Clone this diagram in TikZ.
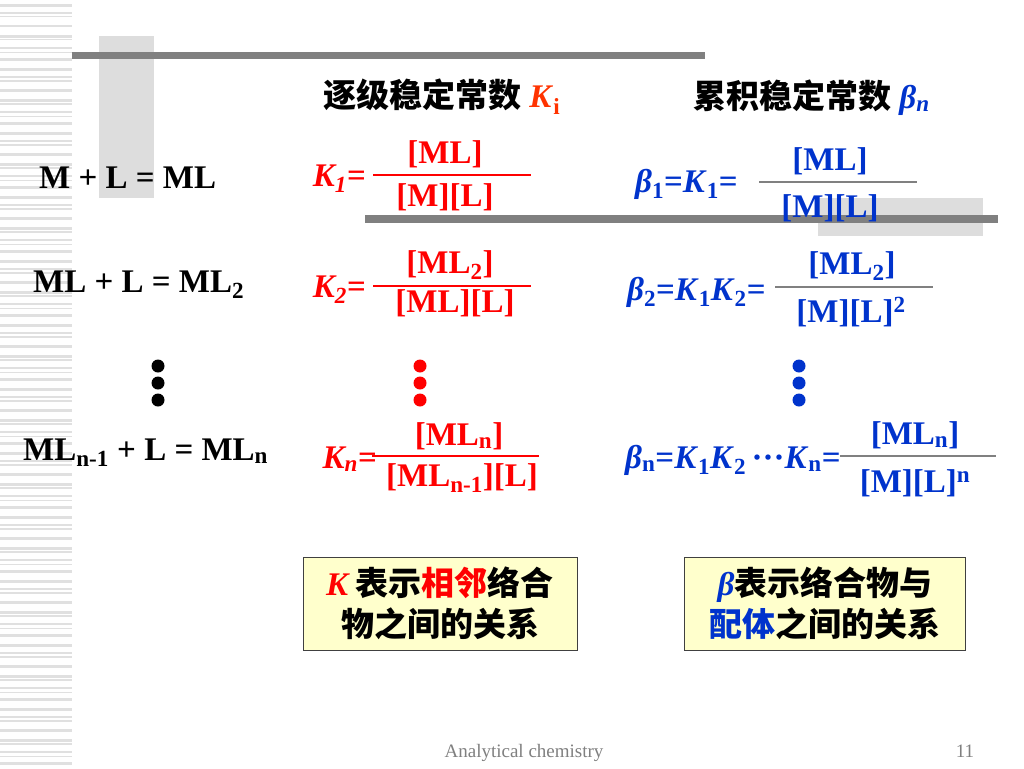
\documentclass[tikz,border=0pt]{standalone}
\usepackage{fontspec}
\setmainfont{Liberation Serif}
\newfontfamily\cjk{Noto Sans CJK SC}
\definecolor{rd}{HTML}{FF0000}
\definecolor{bl}{HTML}{0033CC}
\definecolor{ttl}{HTML}{FF3300}
\definecolor{barc}{HTML}{808080}
\definecolor{lgc}{HTML}{DDDDDD}
\definecolor{stripec}{HTML}{E0E0E0}
\definecolor{boxfill}{HTML}{FFFFCC}
\newcommand{\Kit}{\textit{K}}
\newcommand{\bet}{\textit{β}}
\begin{document}
\begin{tikzpicture}[x=1pt,y=-1pt,
  eqt/.style={font=\fontsize{33}{35}\selectfont\bfseries, inner sep=0pt},
  frt/.style={font=\fontsize{33}{35}\selectfont\bfseries, inner sep=0pt},
  ttlt/.style={font=\fontsize{33}{35}\selectfont\bfseries, inner sep=0pt},
  rline/.style={draw=rd, line width=2.5pt},
  gline/.style={draw=barc, line width=2.5pt},
  bar/.style={fill=barc},
  shade/.style={fill=lgc},
  notebox/.style={draw=black!75, line width=0.8pt, fill=boxfill, minimum width=274pt,
    minimum height=93pt, inner sep=0pt, align=center,
    font=\fontsize{33}{41}\selectfont\cjk\bfseries},
  foot/.style={font=\fontsize{19}{21}\selectfont, text=barc, inner sep=0pt}
]
\useasboundingbox[fill=white] (0,0) rectangle (1024,768);
% left stripes
\foreach \b in {0,64,...,704} {
  \foreach \o/\t in {4/3,12/2,16/1.5,25/2.5,35/3,39/1.5,47/2,52/1,58/3} {
    \fill[stripec] (0,\b+\o) rectangle (72,\b+\o+\t);
  }
}
% decorative shades and bars
\fill[shade] (99,36) rectangle (154,198);
\fill[shade] (818,198) rectangle (983,236);
\fill[bar] (72,52) rectangle (705,59);
\fill[bar] (365,215) rectangle (998,223);

% titles
\node[ttlt, anchor=base west] (t1) at (323,107) {{\cjk 逐级稳定常数} \textcolor{ttl}{\Kit\textsubscript{i}}};
\node[ttlt, anchor=base west] (t2) at (693,108) {{\cjk 累积稳定常数} \textcolor{bl}{\bet\textsubscript{\textit{n}}}};

% left column
\node[eqt, anchor=base west] (e1) at (39,188) {M + L = ML};
\node[eqt, anchor=base west] (e2) at (33,292) {ML + L = ML\textsubscript{2}};
\node[eqt, anchor=base west] (e3) at (23,460) {ML\textsubscript{n-1} + L = ML\textsubscript{n}};
\fill (158,366) circle (6.5) (158,383) circle (6.5) (158,400) circle (6.5);

% red column
\node[frt, text=rd, anchor=base east] (k1) at (366,186) {\textit{K\textsubscript{1}}=};
\node[frt, text=rd, anchor=base] (k1n) at (445,163) {[ML]};
\node[frt, text=rd, anchor=base] (k1d) at (445,206) {[M][L]};
\draw[rline] (373,175) -- (531,175);

\node[frt, text=rd, anchor=base east] (k2) at (366,297) {\textit{K\textsubscript{2}}=};
\node[frt, text=rd, anchor=base] (k2n) at (450,273) {[ML\textsubscript{2}]};
\node[frt, text=rd, anchor=base] (k2d) at (455,312) {[ML][L]};
\draw[rline] (373,286) -- (531,286);

\fill[rd] (420,366) circle (6.5) (420,383) circle (6.5) (420,400) circle (6.5);

\node[frt, text=rd, anchor=base east] (kn) at (377,468) {\textit{K\textsubscript{n}}=};
\node[frt, text=rd, anchor=base] (knn) at (459,445) {[ML\textsubscript{n}]};
\node[frt, text=rd, anchor=base] (knd) at (462,486) {[ML\textsubscript{n-1}][L]};
\draw[rline] (372,456) -- (539,456);

% blue column
\node[frt, text=bl, anchor=base west] (b1) at (635,192) {\bet\textsubscript{1}=\Kit\textsubscript{1}=};
\node[frt, text=bl, anchor=base] (b1n) at (830,170) {[ML]};
\node[frt, text=bl, anchor=base] (b1d) at (830,217) {[M][L]};
\draw[gline] (759,182) -- (917,182);

\node[frt, text=bl, anchor=base west] (b2) at (627,300) {\bet\textsubscript{2}=\Kit\textsubscript{1}\Kit\textsubscript{2}=};
\node[frt, text=bl, anchor=base] (b2n) at (852,274) {[ML\textsubscript{2}]};
\node[frt, text=bl, anchor=base] (b2d) at (851,322) {[M][L]\textsuperscript{2}};
\draw[gline] (775,287) -- (933,287);

\fill[bl] (799,366) circle (6.5) (799,383) circle (6.5) (799,400) circle (6.5);

\node[frt, text=bl, anchor=base west] (bn) at (625,468) {\bet\textsubscript{n}=\Kit\textsubscript{1}\Kit\textsubscript{2}\,\textperiodcentered\textperiodcentered\textperiodcentered\Kit\textsubscript{n}=};
\node[frt, text=bl, anchor=base] (bnn) at (915,444) {[ML\textsubscript{n}]};
\node[frt, text=bl, anchor=base] (bnd) at (915,492) {[M][L]\textsuperscript{n}};
\draw[gline] (840,456) -- (996,456);

% note boxes
\node[notebox] (box1) at (440,603.5) {\textcolor{rd}{\rmfamily\bfseries\itshape K} 表示\textcolor{rd}{相邻}络合\\物之间的关系};
\node[notebox, minimum width=281pt] (box2) at (825,603.5) {\textcolor{bl}{\rmfamily\bfseries\itshape β}表示络合物与\\\textcolor{bl}{配体}之间的关系};

% footer
\node[foot, anchor=base] (ft) at (524,757) {Analytical chemistry};
\node[foot, anchor=base] (pg) at (965,757) {11};
\end{tikzpicture}
\end{document}
